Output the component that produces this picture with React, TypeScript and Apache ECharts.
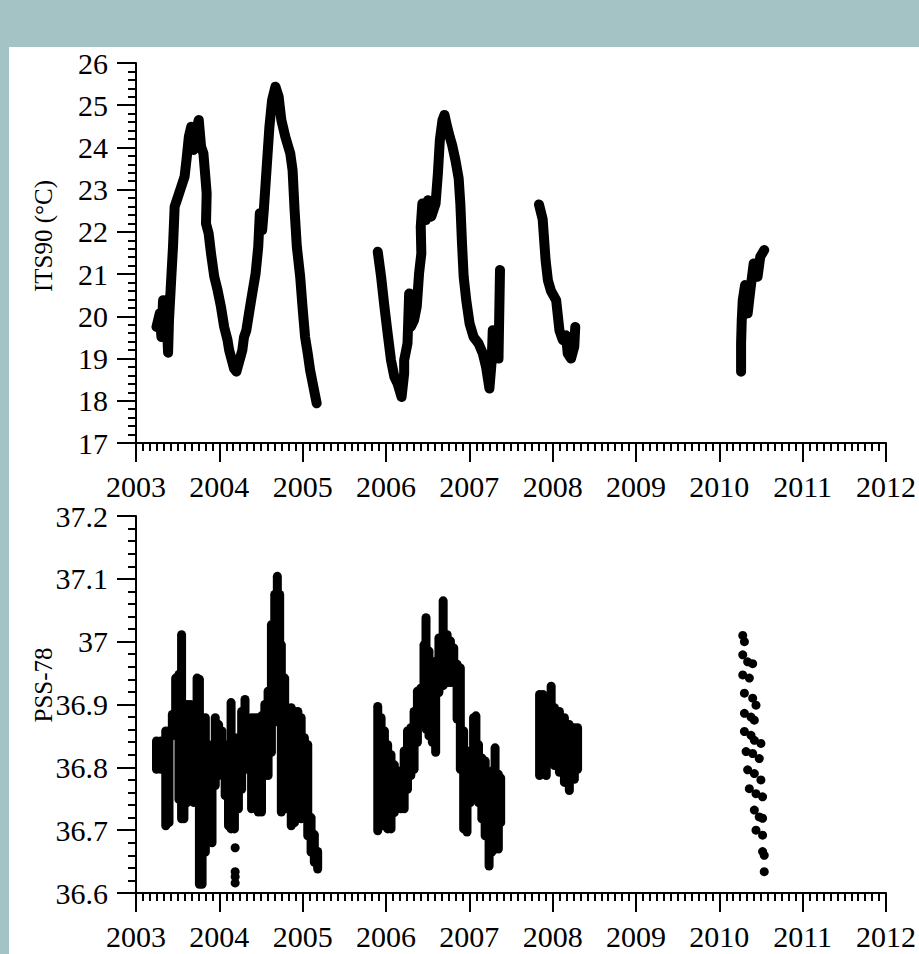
import React, { useEffect, useRef } from "react";
import * as echarts from "echarts";

// ---------- data ----------
const yearMin = 2003;
const yearMax = 2012;
const tempMin = 17;
const tempMax = 26;
const salMin = 36.6;
const salMax = 37.2;

// temperature (ITS90 °C) traces, [year, value]
const tempSeg1: [number, number][] = [
  [2003.246, 19.75], [2003.285, 20.07], [2003.305, 19.51], [2003.325, 20.38], [2003.345, 19.67],
  [2003.365, 20.07], [2003.385, 19.14], [2003.396, 19.91], [2003.424, 20.94], [2003.444, 21.65],
  [2003.464, 22.6], [2003.503, 22.83], [2003.543, 23.07], [2003.583, 23.31], [2003.61, 23.78],
  [2003.634, 24.25], [2003.662, 24.49], [2003.69, 23.94], [2003.721, 24.41], [2003.753, 24.65],
  [2003.781, 24.02], [2003.809, 23.86], [2003.832, 23.31], [2003.848, 22.91], [2003.84, 22.2],
  [2003.872, 21.96], [2003.9, 21.49], [2003.939, 20.94], [2003.979, 20.62], [2004.019, 20.23],
  [2004.058, 19.75], [2004.098, 19.44], [2004.118, 19.2], [2004.15, 18.96], [2004.177, 18.76],
  [2004.205, 18.69], [2004.237, 18.92], [2004.276, 19.2], [2004.296, 19.51], [2004.324, 19.67],
  [2004.356, 20.07], [2004.395, 20.54], [2004.435, 21.01], [2004.467, 21.65], [2004.486, 22.44],
  [2004.514, 22.04], [2004.534, 22.52], [2004.574, 23.7], [2004.601, 24.49], [2004.633, 25.12],
  [2004.673, 25.44], [2004.712, 25.2], [2004.744, 24.65], [2004.792, 24.25], [2004.851, 23.86],
  [2004.879, 23.46], [2004.903, 22.52], [2004.93, 21.65], [2004.97, 20.94], [2004.998, 20.23],
  [2005.029, 19.51], [2005.061, 19.12], [2005.089, 18.73], [2005.129, 18.33], [2005.168, 17.94],
];
const tempSeg2: [number, number][] = [
  [2005.901, 21.53], [2005.941, 20.94], [2005.981, 20.23], [2006.02, 19.59], [2006.06, 18.96],
  [2006.1, 18.57], [2006.139, 18.41], [2006.187, 18.09], [2006.218, 18.65], [2006.218, 18.96],
  [2006.258, 19.36], [2006.278, 20.54], [2006.298, 19.75], [2006.337, 19.91], [2006.369, 20.23],
  [2006.397, 21.02], [2006.424, 21.49], [2006.417, 22.12], [2006.436, 22.67], [2006.476, 22.28],
  [2006.504, 22.75], [2006.543, 22.36], [2006.595, 22.67], [2006.623, 23.39], [2006.646, 24.17],
  [2006.678, 24.65], [2006.702, 24.77], [2006.734, 24.49], [2006.765, 24.25], [2006.793, 24.06],
  [2006.833, 23.7], [2006.872, 23.27], [2006.892, 22.67], [2006.912, 21.73], [2006.932, 20.94],
  [2006.963, 20.38], [2007.003, 19.83], [2007.051, 19.51], [2007.11, 19.36], [2007.162, 19.12],
  [2007.201, 18.8], [2007.241, 18.29], [2007.269, 18.96], [2007.281, 19.67], [2007.33, 19.6],
  [2007.35, 19.0], [2007.368, 21.1],
];
const tempSeg3: [number, number][] = [
  [2007.836, 22.65], [2007.88, 22.3], [2007.915, 21.33], [2007.943, 20.85], [2007.98, 20.6],
  [2008.042, 20.38], [2008.081, 19.67], [2008.121, 19.44], [2008.16, 19.55], [2008.181, 19.12],
  [2008.22, 19.0], [2008.259, 19.28], [2008.271, 19.75],
];
const tempSeg4: [number, number][] = [
  [2010.261, 18.69], [2010.261, 19.36], [2010.269, 19.91], [2010.281, 20.38], [2010.309, 20.74],
  [2010.34, 20.07], [2010.372, 20.62], [2010.412, 21.25], [2010.459, 20.94], [2010.491, 21.41],
  [2010.539, 21.57],
];

// salinity (PSS-78) spread, [year, low, high]
const salBand1: [number, number, number][] = [
  [2003.246, 36.797, 36.842], [2003.297, 36.797, 36.842], [2003.357, 36.707, 36.858],
  [2003.396, 36.712, 36.858], [2003.436, 36.85, 36.884], [2003.476, 36.877, 36.942],
  [2003.515, 36.749, 36.948], [2003.547, 36.718, 37.011], [2003.575, 36.718, 36.889],
  [2003.614, 36.744, 36.9], [2003.654, 36.755, 36.9], [2003.694, 36.744, 36.836],
  [2003.733, 36.771, 36.942], [2003.761, 36.614, 36.94], [2003.793, 36.614, 36.873],
  [2003.832, 36.665, 36.879], [2003.872, 36.691, 36.836], [2003.912, 36.68, 36.82],
  [2003.951, 36.771, 36.879], [2003.991, 36.787, 36.868], [2004.031, 36.824, 36.858],
  [2004.07, 36.755, 36.836], [2004.11, 36.707, 36.826], [2004.141, 36.702, 36.903],
  [2004.181, 36.702, 36.847], [2004.229, 36.734, 36.847], [2004.268, 36.765, 36.889],
  [2004.308, 36.797, 36.908], [2004.348, 36.797, 36.858], [2004.387, 36.734, 36.879],
  [2004.427, 36.744, 36.879], [2004.467, 36.729, 36.879], [2004.506, 36.729, 36.882],
  [2004.546, 36.787, 36.9], [2004.585, 36.787, 36.921], [2004.625, 36.824, 37.027],
  [2004.665, 36.872, 37.075], [2004.696, 36.903, 37.104], [2004.724, 36.872, 37.075],
  [2004.744, 36.729, 36.995], [2004.784, 36.734, 36.942], [2004.823, 36.734, 36.836],
  [2004.863, 36.707, 36.895], [2004.902, 36.712, 36.889], [2004.942, 36.734, 36.889],
  [2004.982, 36.718, 36.879], [2005.021, 36.723, 36.847], [2005.061, 36.691, 36.836],
  [2005.101, 36.665, 36.72], [2005.14, 36.649, 36.693], [2005.18, 36.638, 36.666],
];
const salBand2: [number, number, number][] = [
  [2005.901, 36.699, 36.897], [2005.941, 36.707, 36.879], [2005.981, 36.707, 36.858],
  [2006.02, 36.702, 36.836], [2006.06, 36.702, 36.82], [2006.1, 36.728, 36.804],
  [2006.139, 36.744, 36.794], [2006.179, 36.734, 36.794], [2006.218, 36.734, 36.826],
  [2006.258, 36.765, 36.858], [2006.298, 36.787, 36.863], [2006.337, 36.797, 36.889],
  [2006.377, 36.84, 36.921], [2006.417, 36.872, 36.926], [2006.456, 36.893, 36.995],
  [2006.48, 36.861, 37.038], [2006.516, 36.85, 36.985], [2006.556, 36.84, 36.953],
  [2006.596, 36.824, 36.969], [2006.635, 36.919, 37.006], [2006.686, 36.93, 37.065],
  [2006.734, 36.935, 37.011], [2006.773, 36.935, 37.001], [2006.813, 36.935, 36.99],
  [2006.853, 36.877, 36.964], [2006.892, 36.797, 36.958], [2006.932, 36.702, 36.858],
  [2006.972, 36.697, 36.815], [2007.011, 36.744, 36.826], [2007.051, 36.755, 36.879],
  [2007.079, 36.755, 36.882], [2007.11, 36.744, 36.836], [2007.15, 36.718, 36.815],
  [2007.19, 36.691, 36.81], [2007.237, 36.643, 36.783], [2007.269, 36.665, 36.794],
  [2007.309, 36.67, 36.831], [2007.348, 36.67, 36.789], [2007.376, 36.712, 36.783],
];
const salBand3: [number, number, number][] = [
  [2007.843, 36.787, 36.916], [2007.883, 36.792, 36.916], [2007.923, 36.787, 36.9],
  [2007.982, 36.808, 36.929], [2008.022, 36.803, 36.895], [2008.081, 36.792, 36.889],
  [2008.141, 36.776, 36.879], [2008.2, 36.763, 36.868], [2008.26, 36.781, 36.863],
  [2008.299, 36.797, 36.863],
];
// isolated salinity samples, [year, value]
const salDots1: [number, number][] = [
  [2004.19, 36.672], [2004.19, 36.634], [2004.19, 36.626], [2004.19, 36.616],
];
const salDots4: [number, number][] = [
  [2010.281, 37.01], [2010.301, 37.0], [2010.281, 36.979], [2010.34, 36.968], [2010.4, 36.965],
  [2010.281, 36.947], [2010.36, 36.942], [2010.301, 36.918], [2010.4, 36.91], [2010.44, 36.899],
  [2010.301, 36.886], [2010.38, 36.88], [2010.42, 36.875], [2010.301, 36.857], [2010.38, 36.851],
  [2010.42, 36.843], [2010.499, 36.838], [2010.321, 36.825], [2010.4, 36.822], [2010.479, 36.814],
  [2010.34, 36.796], [2010.42, 36.79], [2010.499, 36.78], [2010.36, 36.766], [2010.44, 36.758],
  [2010.519, 36.753], [2010.42, 36.732], [2010.479, 36.721], [2010.519, 36.719], [2010.44, 36.7],
  [2010.519, 36.692], [2010.519, 36.666], [2010.539, 36.66], [2010.539, 36.634],
];

const tempTitle = "ITS90 (°C)";
const salTitle = "PSS-78";

// ---------- styling ----------
const FONT = "'Liberation Serif', 'Times New Roman', serif";
const INK = "#000";

function xAxisCfg(gridIndex: number) {
  return {
    gridIndex,
    type: "value",
    min: yearMin,
    max: yearMax,
    interval: 1,
    axisLine: { show: true, onZero: false, lineStyle: { color: INK, width: 2 } },
    axisTick: { show: true, length: 19, lineStyle: { color: INK, width: 2 } },
    minorTick: { show: true, splitNumber: 12, length: 8, lineStyle: { color: INK, width: 2 } },
    splitLine: { show: false },
    minorSplitLine: { show: false },
    axisLabel: {
      margin: 28,
      color: INK,
      fontFamily: FONT,
      fontSize: 30,
      formatter: (v: number) => String(Math.round(v)),
    },
  };
}

function yAxisCfg(gridIndex: number, min: number, max: number, interval: number, dec: number) {
  return {
    gridIndex,
    type: "value",
    min,
    max,
    interval,
    axisLine: { show: true, onZero: false, lineStyle: { color: INK, width: 2 } },
    axisTick: { show: true, length: 19, lineStyle: { color: INK, width: 2 } },
    minorTick: { show: true, splitNumber: 5, length: 8, lineStyle: { color: INK, width: 2 } },
    splitLine: { show: false },
    minorSplitLine: { show: false },
    axisLabel: {
      margin: 28,
      color: INK,
      fontFamily: FONT,
      fontSize: 30,
      formatter: (v: number) => String(Math.round(v * Math.pow(10, dec)) / Math.pow(10, dec)),
    },
  };
}

function tempLine(data: [number, number][]) {
  return {
    type: "line",
    xAxisIndex: 0,
    yAxisIndex: 0,
    data,
    showSymbol: false,
    symbol: "none",
    lineStyle: { color: INK, width: 10, cap: "round", join: "round", opacity: 1 },
    itemStyle: { color: INK },
    silent: true,
    z: 3,
  };
}

function salBand(data: [number, number, number][]) {
  return {
    type: "custom",
    xAxisIndex: 1,
    yAxisIndex: 1,
    data,
    encode: { x: 0, y: [1, 2] },
    silent: true,
    z: 3,
    renderItem: (params: any, api: any) => {
      const t = api.value(0);
      const p1 = api.coord([t, api.value(1)]);
      const p2 = api.coord([t, api.value(2)]);
      return {
        type: "line",
        shape: { x1: p1[0], y1: p1[1], x2: p2[0], y2: p2[1] },
        style: { stroke: INK, lineWidth: 9, lineCap: "round" },
      };
    },
  };
}

function salScatter(data: [number, number][]) {
  return {
    type: "scatter",
    xAxisIndex: 1,
    yAxisIndex: 1,
    data,
    symbol: "circle",
    symbolSize: 9,
    itemStyle: { color: INK, opacity: 1 },
    silent: true,
    z: 3,
  };
}

export default function App() {
  const ref = useRef<HTMLDivElement>(null);

  useEffect(() => {
    if (!ref.current) return;
    const chart = echarts.init(ref.current, null, { renderer: "svg" });
    chart.setOption({
      animation: false,
      backgroundColor: "transparent",
      grid: [
        { left: 136, top: 63, width: 757, height: 380 },
        { left: 136, top: 516, width: 757, height: 377 },
      ],
      xAxis: [xAxisCfg(0), xAxisCfg(1)],
      yAxis: [yAxisCfg(0, tempMin, tempMax, 1, 0), yAxisCfg(1, salMin, salMax, 0.1, 1)],
      graphic: [
        {
          type: "text",
          x: 43,
          y: 236,
          rotation: Math.PI / 2,
          style: {
            text: tempTitle,
            fill: INK,
            fontFamily: FONT,
            fontSize: 25,
            align: "center",
            verticalAlign: "middle",
          },
        },
        {
          type: "text",
          x: 43,
          y: 685,
          rotation: Math.PI / 2,
          style: {
            text: salTitle,
            fill: INK,
            fontFamily: FONT,
            fontSize: 25,
            align: "center",
            verticalAlign: "middle",
          },
        },
      ],
      series: [
        tempLine(tempSeg1),
        tempLine(tempSeg2),
        tempLine(tempSeg3),
        tempLine(tempSeg4),
        salBand(salBand1),
        salBand(salBand2),
        salBand(salBand3),
        salScatter(salDots1),
        salScatter(salDots4),
      ],
    });
    return () => chart.dispose();
  }, []);

  return (
    <div
      style={{
        position: "absolute",
        left: 0,
        top: 0,
        width: 919,
        height: 954,
        background: "#a4c3c5",
        overflow: "hidden",
      }}
    >
      <div
        style={{
          position: "absolute",
          left: 9,
          top: 47,
          width: 910,
          height: 907,
          background: "#ffffff",
        }}
      />
      <div
        ref={ref}
        style={{ position: "absolute", left: 0, top: 0, width: 919, height: 954 }}
      />
    </div>
  );
}
